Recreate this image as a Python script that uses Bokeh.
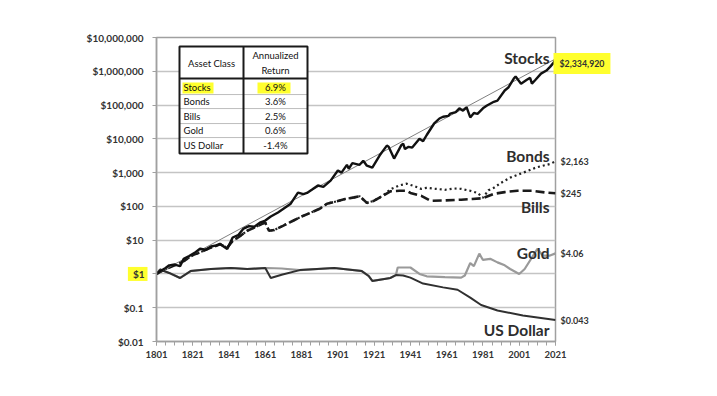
from bokeh.plotting import figure
from bokeh.models import FixedTicker, Label, ColumnDataSource, LogAxis
from bokeh.embed import file_html
from bokeh.resources import INLINE
from bokeh.core.properties import value

# ---------------- data ----------------
stocks_years = [1801, 1803, 1806, 1808, 1811, 1814, 1816, 1819, 1822, 1825, 1828, 1831, 1834, 1836,
                1838, 1840, 1843, 1846, 1849, 1852, 1855, 1858, 1861, 1864, 1868, 1871, 1875, 1879,
                1882, 1884, 1887, 1890, 1893, 1897, 1901, 1903, 1906, 1907, 1909, 1913, 1915, 1917,
                1920, 1924, 1928, 1929, 1932, 1936, 1937, 1938, 1940, 1942, 1946, 1948, 1950, 1954,
                1957, 1959, 1962, 1963, 1966, 1968, 1970, 1972, 1974, 1976, 1978, 1981, 1983, 1987,
                1989, 1993, 1995, 1998, 1999, 2002, 2005, 2007, 2008, 2010, 2013, 2016, 2018, 2020,
                2021]
stocks_values = [1.0, 1.2, 1.5, 1.8, 1.9, 1.7, 2.8, 3.4, 4.2, 5.6, 5.2, 6.5, 7.0, 7.8,
                 6.5, 5.5, 12, 14, 22, 26, 25, 33, 38, 50, 66, 85, 120, 256,
                 230, 250, 320, 415, 380, 580, 1150, 1000, 1700, 1300, 1900, 1700, 2250, 1600,
                 1400, 3200, 6300, 5800, 2600, 6500, 7200, 5000, 5800, 5500, 10000, 8500, 13000, 28000,
                 40000, 45000, 48000, 56000, 62000, 80000, 68000, 85000, 43000, 58000, 55000, 80000, 95000, 125000,
                 135000, 270000, 330000, 610000, 700000, 430000, 550000, 640000, 430000, 560000, 850000, 1050000, 1350000, 1800000,
                 2334920]

trend_years = [1801, 2021]
trend_values = [1.0, 2334920]

bonds_years = [1801, 1806, 1811, 1816, 1821, 1826, 1831, 1836, 1840, 1843, 1846, 1851, 1856, 1859,
               1861, 1863, 1866, 1871, 1876, 1881, 1886, 1891, 1895, 1900, 1905, 1910, 1913, 1917,
               1921, 1926, 1930, 1935, 1939, 1943, 1947, 1950, 1955, 1960, 1965, 1969, 1974, 1978,
               1981, 1984, 1987, 1991, 1996, 2001, 2006, 2010, 2014, 2018, 2021]
bonds_values = [1.0, 1.4, 1.8, 2.4, 3.6, 4.6, 6.0, 7.5, 6.0, 9.5, 12, 19, 25, 30,
                33, 19, 20, 27, 37, 50, 65, 85, 120, 140, 165, 185, 200, 127,
                147, 210, 320, 420, 470, 400, 330, 355, 330, 310, 340, 330, 290, 250,
                180, 300, 355, 500, 710, 900, 1140, 1400, 1600, 1800, 2163]

bills_years = [1801, 1806, 1811, 1816, 1821, 1826, 1831, 1836, 1840, 1843, 1846, 1851, 1856, 1859,
               1861, 1863, 1866, 1871, 1876, 1881, 1886, 1891, 1895, 1900, 1905, 1910, 1913, 1917,
               1921, 1926, 1930, 1935, 1939, 1941, 1947, 1952, 1960, 1969, 1975, 1981, 1987, 1993,
               2000, 2008, 2015, 2021]
bills_values = [1.0, 1.4, 1.8, 2.4, 3.6, 4.6, 6.0, 7.5, 6.0, 9.5, 12, 19, 25, 30,
                33, 19, 20, 27, 37, 50, 65, 85, 120, 140, 165, 185, 200, 127,
                147, 210, 280, 290, 290, 250, 205, 147, 150, 158, 165, 175, 235, 265,
                290, 290, 260, 245]

gold_years = [1801, 1803, 1808, 1814, 1820, 1831, 1842, 1851, 1862, 1870, 1880, 1899, 1914, 1918,
              1920, 1930, 1933, 1934, 1941, 1946, 1950, 1960, 1969, 1971, 1974, 1976, 1979, 1981,
              1985, 1989, 1993, 1996, 2001, 2004, 2011, 2014, 2018, 2021]
gold_values = [1.0, 1.35, 1.07, 0.76, 1.23, 1.4, 1.5, 1.4, 1.5, 1.45, 1.3, 1.5, 1.23, 0.87,
               0.62, 0.76, 0.93, 1.55, 1.55, 1.0, 0.85, 0.8, 0.78, 0.9, 2.1, 1.7, 4.0, 2.6,
               2.8, 2.2, 1.8, 1.4, 1.0, 1.4, 5.5, 3.5, 3.5, 4.06]

usd_years = [1801, 1803, 1808, 1814, 1820, 1831, 1842, 1851, 1861, 1864, 1870, 1880, 1899, 1914,
             1918, 1920, 1930, 1933, 1937, 1941, 1948, 1959, 1967, 1974, 1980, 1989, 2003, 2021]
usd_values = [1.0, 1.35, 1.07, 0.76, 1.23, 1.4, 1.5, 1.4, 1.5, 0.76, 0.95, 1.3, 1.5, 1.23,
              0.87, 0.62, 0.76, 0.93, 0.9, 0.78, 0.52, 0.4, 0.34, 0.2, 0.12, 0.083, 0.059, 0.043]

y_ticks = [0.01, 0.1, 1.0, 10.0, 100.0, 1000.0, 10000.0, 100000.0, 1000000.0, 10000000.0]
y_tick_labels = ["$0.01", "$0.1", "$1", "$10", "$100", "$1,000", "$10,000", "$100,000",
                 "$1,000,000", "$10,000,000"]
x_ticks = [1801, 1821, 1841, 1861, 1881, 1901, 1921, 1941, 1961, 1981, 2001, 2021]

table_assets = ["Stocks", "Bonds", "Bills", "Gold", "US Dollar"]
table_returns = ["6.9%", "3.6%", "2.5%", "0.6%", "-1.4%"]

end_values = [2334920, 2163, 245, 4.06, 0.043]
end_labels = ["$2,334,920", "$2,163", "$245", "$4.06", "$0.043"]

# ---------------- helpers (page pixel -> data, for annotations only) ----------------
def X(px):
    return 1801 + (px - 156) * 220.0 / 399.0

def Y(py):
    return 10 ** ((273.4 - py) / 33.78)

FONT = "Lato"
TXT = "#333333"
YEL = "#ffff2e"

p = figure(width=705, height=385, x_range=(1801, 2021), y_range=(0.01, 1e7),
           y_axis_type="log", output_backend="svg", toolbar_location=None,
           min_border_left=156, min_border_right=150, min_border_top=37, min_border_bottom=44)

p.background_fill_color = "white"
p.border_fill_color = "white"
p.outline_line_color = "#a0a0a0"
p.outline_line_width = 1.5

# axes
p.xaxis.ticker = FixedTicker(ticks=x_ticks, minor_ticks=list(range(1801, 2022, 5)))
p.yaxis.ticker = FixedTicker(ticks=y_ticks, minor_ticks=[])
p.yaxis.major_label_overrides = {t: (l if l != "$1" else " ") for t, l in zip(y_ticks, y_tick_labels)}
for ax in (p.xaxis[0], p.yaxis[0]):
    ax.axis_line_color = "#a0a0a0"
    ax.axis_line_width = 1.5
    ax.major_tick_line_color = "#a0a0a0"
    ax.minor_tick_line_color = "#a0a0a0"
    ax.major_tick_in = 0
    ax.major_tick_out = 4
    ax.minor_tick_in = 0
    ax.minor_tick_out = 4
    ax.major_label_text_font = FONT
    ax.major_label_text_font_style = "bold"
    ax.major_label_text_color = TXT
p.yaxis.major_label_text_font_size = "10px"
p.xaxis.major_label_text_font_size = "9.5px"
p.yaxis.minor_tick_line_color = None
p.yaxis.major_label_standoff = 9
p.xaxis.major_label_standoff = 5

# right axis carrying the end values (first one drawn as a highlighted label)
rax = LogAxis(ticker=FixedTicker(ticks=end_values[1:], minor_ticks=[]),
              major_label_overrides={v: l for v, l in zip(end_values[1:], end_labels[1:])})
rax.axis_line_color = None
rax.major_tick_line_color = None
rax.minor_tick_line_color = None
rax.major_tick_out = 0
rax.major_tick_in = 0
rax.major_label_standoff = 5
rax.major_label_text_font = FONT
rax.major_label_text_font_style = "bold"
rax.major_label_text_font_size = "9px"
rax.major_label_text_color = TXT
p.add_layout(rax, "right")

p.xgrid.grid_line_color = None
p.ygrid.ticker = FixedTicker(ticks=y_ticks, minor_ticks=[])
p.ygrid.grid_line_color = "#c4c4c4"
p.ygrid.grid_line_width = 1.3

# series
p.line(gold_years, gold_values, line_color="#9a9a9a", line_width=2.2)
p.line(usd_years, usd_values, line_color="#303030", line_width=2.0)
p.line(bonds_years, bonds_values, line_color="#222222", line_width=2.2, line_dash="2 3")
p.line(bills_years, bills_values, line_color="#1a1a1a", line_width=2.6, line_dash="9 4")
p.line(trend_years, trend_values, line_color="#808080", line_width=1.0)
p.line(stocks_years, stocks_values, line_color="#111111", line_width=2.4)

# table
p.quad(left=[X(179)], right=[X(307)], top=[Y(46)], bottom=[Y(153)],
       fill_color="white", line_color=None)
p.quad(left=[X(182), X(257)], right=[X(213), X(290)], top=[Y(82), Y(82)], bottom=[Y(93), Y(93)],
       fill_color=YEL, line_color=None)
row_line_ys = [94, 108, 123, 137]
p.multi_line(xs=[[X(179), X(307)] for _ in row_line_ys], ys=[[Y(r), Y(r)] for r in row_line_ys],
             line_color="#bdbdbd", line_width=1)
p.multi_line(xs=[[X(179), X(307)], [X(243), X(243)]], ys=[[Y(78), Y(78)], [Y(46), Y(153)]],
             line_color="#1a1a1a", line_width=2)
p.quad(left=[X(179)], right=[X(307)], top=[Y(46)], bottom=[Y(153)],
       fill_color=None, line_color="#1a1a1a", line_width=2)

row_centers = [87, 101, 116, 130, 145]
tsrc = ColumnDataSource(dict(x=[X(183)] * 5, y=[Y(r) for r in row_centers], t=table_assets))
p.text(x="x", y="y", text="t", source=tsrc, text_font=value(FONT), text_font_size="9.5px",
       text_color="#111111", text_align="left", text_baseline="middle")
vsrc = ColumnDataSource(dict(x=[X(275)] * 5, y=[Y(r) for r in row_centers], t=table_returns))
p.text(x="x", y="y", text="t", source=vsrc, text_font=value(FONT), text_font_size="9.5px",
       text_color="#111111", text_align="center", text_baseline="middle")
hsrc = ColumnDataSource(dict(x=[X(211), X(275), X(275)], y=[Y(63), Y(55), Y(70)],
                             t=["Asset Class", "Annualized", "Return"]))
p.text(x="x", y="y", text="t", source=hsrc, text_font=value(FONT), text_font_size="9.5px",
       text_color="#111111", text_align="center", text_baseline="middle")

# series names
names = [("Stocks", 57), ("Bonds", 155), ("Bills", 206), ("Gold", 252), ("US Dollar", 329)]
for nm, base in names:
    p.add_layout(Label(x=X(549), y=Y(base), text=nm, text_font=FONT, text_font_style="bold",
                       text_font_size="15.5px", text_color="#2e2e2e", text_align="right",
                       text_baseline="alphabetic"))

# highlighted end value (side panel, so it is not clipped to the frame)
p.add_layout(Label(x=X(553), y=Y(63), text=end_labels[0], text_font=FONT, text_font_style="bold",
                   text_font_size="8.8px", text_color=TXT, text_align="left",
                   text_baseline="middle", background_fill_color=YEL,
                   padding=dict(left=6, right=6, top=5, bottom=5)), "right")

# highlighted $1 tick label
p.add_layout(Label(x=X(147), y=1.0, text="$1", text_font=FONT, text_font_style="bold",
                   text_font_size="10px", text_color=TXT, text_align="right",
                   text_baseline="middle", background_fill_color=YEL,
                   padding=dict(left=5, right=3, top=1, bottom=1)), "left")

open("out.html", "w").write(file_html(p, INLINE))
